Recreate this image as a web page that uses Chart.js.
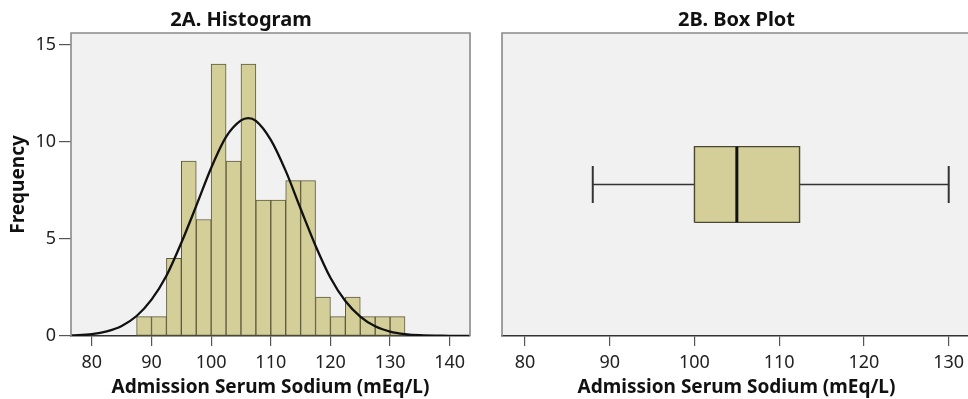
<!DOCTYPE html>
<html><head><meta charset="utf-8">
<script src="https://cdn.jsdelivr.net/npm/chart.js@4.4.1/dist/chart.umd.min.js"></script>
<style>
html,body{margin:0;padding:0;background:#fff;overflow:hidden;width:968px;height:399px;position:relative;}
#c1{position:absolute;left:0;top:0;}
#c2{position:absolute;left:482px;top:0;}
</style></head><body>
<canvas id="c1" width="482" height="399"></canvas>
<canvas id="c2" width="490" height="399"></canvas>
<script>
// ---- Histogram data ----
const binStarts = [87.5, 90, 92.5, 95, 97.5, 100, 102.5, 105, 107.5, 110, 112.5, 115, 117.5, 120, 122.5, 125, 127.5, 130];
const binCounts = [1, 1, 4, 9, 6, 14, 9, 14, 7, 7, 8, 8, 2, 1, 2, 1, 1, 1];
const binWidth = 2.5;
// normal curve
const curveX = [76.5, 80, 82.5, 85, 87.5, 90, 92.5, 95, 97.5, 100, 102.5, 105, 106.2, 107.5, 110, 112.5, 115, 117.5, 120, 122.5, 125, 127.5, 130, 132.5, 135, 140, 143.4];
const curveY = [0.03, 0.1, 0.24, 0.52, 1.03, 1.87, 3.1, 4.8, 6.7, 8.65, 10.25, 11.1, 11.22, 11.08, 10.1, 8.5, 6.55, 4.65, 3.0, 1.8, 1.0, 0.5, 0.23, 0.1, 0.04, 0.01, 0.0];
const histXTicks = [80, 90, 100, 110, 120, 130, 140];
const histYTicks = [0, 5, 10, 15];
// ---- Box plot data: min, Q1, median, Q3, max ----
const boxStats = [88, 100, 105, 112.4, 130];
const boxXTicks = [80, 90, 100, 110, 120, 130];

const FONT = 'Noto Sans';
const boxHalf = 0.25, capHalf = 0.122;

const framePlugin = {
  id: 'frame',
  beforeDraw(chart) {
    const {ctx, chartArea: a} = chart;
    ctx.save();
    ctx.fillStyle = '#f1f1f1';
    ctx.fillRect(a.left, a.top, a.right - a.left, a.bottom - a.top);
    ctx.restore();
  },
  afterDraw(chart) {
    const {ctx, chartArea: a} = chart;
    ctx.save();
    ctx.strokeStyle = '#8a8a8a';
    ctx.lineWidth = 1.6;
    ctx.beginPath();
    ctx.moveTo(a.left, a.bottom);
    ctx.lineTo(a.left, a.top);
    ctx.lineTo(a.right, a.top);
    ctx.lineTo(a.right, a.bottom);
    ctx.stroke();
    ctx.restore();
  }
};

const tickFont = {family: FONT, size: 18};
const titleFont = {family: FONT, size: 19, weight: 'bold'};
const chartTitleFont = {family: FONT, size: 20, weight: 'bold', lineHeight: 1.2};

function xScale(min, max, tickVals) {
  return {
    type: 'linear', min, max, offset: false,
    afterBuildTicks: s => { s.ticks = tickVals.map(v => ({value: v})); },
    afterFit: s => { s.height = 63; },
    ticks: {font: tickFont, color: '#222', padding: 6, maxRotation: 0},
    grid: {display: true, drawOnChartArea: false, drawTicks: true, tickLength: 10, color: '#555', lineWidth: 1.2, offset: false},
    border: {display: true, color: '#333', width: 1.6},
    title: {display: true, text: 'Admission Serum Sodium (mEq/L)', font: titleFont, color: '#111', padding: {top: 0, bottom: 0}}
  };
}

// ---- Histogram ----
new Chart(document.getElementById('c1'), {
  type: 'bar',
  data: {
    datasets: [
      {
        type: 'line',
        data: curveX.map((x, i) => ({x, y: curveY[i]})),
        borderColor: '#111', borderWidth: 2.3, pointRadius: 0,
        cubicInterpolationMode: 'monotone', fill: false, order: 0
      },
      {
        type: 'bar',
        data: binStarts.map((s, i) => ({x: s + binWidth / 2, y: binCounts[i]})),
        backgroundColor: '#d4cf98', borderColor: '#5d5a3c', borderWidth: 1,
        borderSkipped: false, barPercentage: 1, categoryPercentage: 1, order: 1
      }
    ]
  },
  options: {
    responsive: false, animation: false,
    layout: {padding: 0},
    plugins: {
      legend: {display: false}, tooltip: {enabled: false},
      title: {display: true, text: '2A. Histogram', color: '#111', font: chartTitleFont, padding: {top: 8, bottom: 1}}
    },
    scales: {
      x: xScale(76.5, 143.4, histXTicks),
      y: {
        type: 'linear', min: 0, max: 15.6,
        afterBuildTicks: s => { s.ticks = histYTicks.map(v => ({value: v})); },
        afterFit: s => { s.width = 71; },
        ticks: {font: tickFont, color: '#222', padding: 3},
        grid: {display: true, drawOnChartArea: false, drawTicks: true, tickLength: 12, color: '#555', lineWidth: 1.2},
        border: {display: false},
        title: {display: true, text: 'Frequency', font: titleFont, color: '#111', padding: {top: 7, bottom: 0}}
      },
      yR: {
        type: 'linear', position: 'right', display: true,
        ticks: {display: false}, grid: {display: false}, border: {display: false},
        afterFit: s => { s.width = 12; }
      }
    }
  },
  plugins: [framePlugin]
});

// ---- Box plot ----
const [bMin, bQ1, bMed, bQ3, bMax] = boxStats;
const seg = pts => pts.map(p => ({x: p[0], y: p[1]}));
const lineDs = (pts, color, width) => ({
  type: 'line', data: seg(pts), borderColor: color, borderWidth: width,
  pointRadius: 0, fill: false, tension: 0
});
new Chart(document.getElementById('c2'), {
  type: 'scatter',
  data: {
    datasets: [
      lineDs([[bMed, -boxHalf], [bMed, boxHalf]], '#111', 3),
      lineDs([[bQ1, -boxHalf], [bQ3, -boxHalf], [bQ3, boxHalf], [bQ1, boxHalf], [bQ1, -boxHalf]], '#4a4834', 1.4),
      lineDs([[bMin, 0], [bQ1, 0]], '#333', 1.6),
      lineDs([[bQ3, 0], [bMax, 0]], '#333', 1.6),
      lineDs([[bMin, -capHalf], [bMin, capHalf]], '#333', 2),
      lineDs([[bMax, -capHalf], [bMax, capHalf]], '#333', 2),
      {
        type: 'line', data: seg([[bQ1, boxHalf], [bQ3, boxHalf]]),
        borderWidth: 0, borderColor: 'rgba(0,0,0,0)', pointRadius: 0,
        backgroundColor: '#d4cf98', fill: {target: {value: -boxHalf}}
      }
    ]
  },
  options: {
    responsive: false, animation: false,
    layout: {padding: {left: 20, right: 1, top: 0, bottom: 0}},
    plugins: {
      legend: {display: false}, tooltip: {enabled: false},
      title: {display: true, text: '2B. Box Plot', color: '#111', font: chartTitleFont, padding: {top: 8, bottom: 1}}
    },
    scales: {
      x: xScale(77.29, 132.63, boxXTicks),
      y: {type: 'linear', display: false, min: -1, max: 1}
    }
  },
  plugins: [framePlugin]
});
</script>
</body></html>
